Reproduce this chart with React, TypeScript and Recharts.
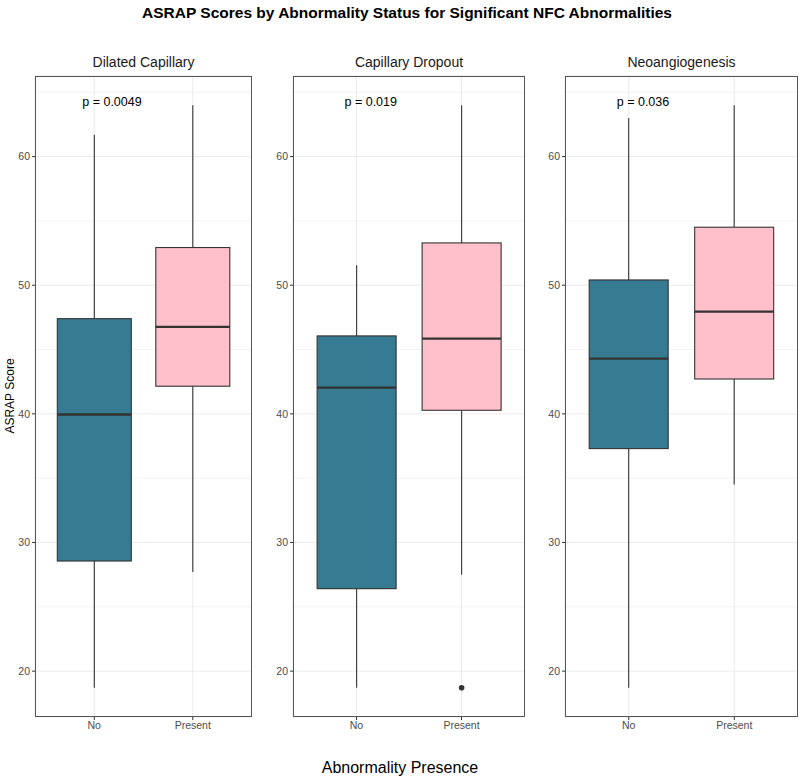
import React from 'react';
import { ComposedChart, Bar, XAxis, YAxis, CartesianGrid, ReferenceDot } from 'recharts';

const panelTitles = ['Dilated Capillary', 'Capillary Dropout', 'Neoangiogenesis'];
const groups = ['No', 'Present'];
const pLabels = ['p = 0.0049', 'p = 0.019', 'p = 0.036'];
const whiskerLow = [[18.7, 27.7], [18.7, 27.5], [18.7, 34.5]];
const q1 = [[28.56, 42.15], [26.41, 40.28], [37.3, 42.71]];
const median = [[39.95, 46.76], [42.04, 45.85], [44.3, 47.95]];
const q3 = [[47.4, 52.93], [46.06, 53.29], [50.41, 54.51]];
const whiskerHigh = [[61.7, 64.0], [51.55, 64.0], [63.0, 64.0]];
const outliers = [[[], []], [[], [18.7]], [[], []]];
const pLabelY = 64.3;
const majorTicks = [20, 30, 40, 50, 60];
const minorTicks = [25, 35, 45, 55, 65];
const groupColors = ['#367B91', '#FFC0CB'];

const allVals: number[] = [];
for (let p = 0; p < 3; p++) {
  for (let g = 0; g < 2; g++) {
    allVals.push(whiskerLow[p][g], whiskerHigh[p][g], ...outliers[p][g]);
  }
}
const dMin = Math.min(...allVals);
const dMax = Math.max(...allVals);
const pad = (dMax - dMin) * 0.05;
const yDomain = [dMin - pad, dMax + pad];

const FONT = '"Liberation Sans", Arial, Helvetica, sans-serif';

function buildData(p: number) {
  return groups.map((g, i) => {
    const lo = Math.min(whiskerLow[p][i], ...outliers[p][i]);
    return {
      group: g,
      idx: i,
      lo,
      hi: whiskerHigh[p][i],
      wLow: whiskerLow[p][i],
      q1: q1[p][i],
      med: median[p][i],
      q3: q3[p][i],
      out: outliers[p][i],
      range: [lo, whiskerHigh[p][i]],
    };
  });
}

const BoxShape = (props: any) => {
  const { x, y, width, height, payload } = props;
  if (payload == null || height == null) return null;
  const { lo, hi } = payload;
  const py = (v: number) => y + (height * (hi - v)) / (hi - lo);
  const cx = x + width / 2;
  const stroke = '#333333';
  return (
    <g>
      <line x1={cx} x2={cx} y1={py(payload.hi)} y2={py(payload.q3)} stroke={stroke} strokeWidth={1.1} />
      <line x1={cx} x2={cx} y1={py(payload.q1)} y2={py(payload.wLow)} stroke={stroke} strokeWidth={1.1} />
      <rect
        x={x}
        y={py(payload.q3)}
        width={width}
        height={py(payload.q1) - py(payload.q3)}
        fill={groupColors[payload.idx]}
        stroke={stroke}
        strokeWidth={1.1}
      />
      <line x1={x} x2={x + width} y1={py(payload.med)} y2={py(payload.med)} stroke={stroke} strokeWidth={2.3} />
      {payload.out.map((o: number, k: number) => (
        <circle key={k} cx={cx} cy={py(o)} r={2.8} fill={stroke} />
      ))}
    </g>
  );
};

const panelLayout = [
  { left: 0, width: 252, plotLeft: 35 },
  { left: 258, width: 267, plotLeft: 293 },
  { left: 530, width: 268, plotLeft: 565 },
];
const PLOT_TOP = 76;
const PLOT_BOTTOM = 717;
const H = 778;

function Panel({ p }: { p: number }) {
  const lay = panelLayout[p];
  const data = buildData(p);
  const yAxisW = lay.plotLeft - lay.left;
  const plotW = lay.width - yAxisW;
  const padX = Math.round(plotW * 0.04545);
  return (
    <div style={{ position: 'absolute', left: lay.left, top: 0, width: lay.width, height: H }}>
      <ComposedChart
        width={lay.width}
        height={H}
        data={data}
        margin={{ top: PLOT_TOP, right: 0, bottom: H - PLOT_BOTTOM - 30, left: 0 }}
        barCategoryGap="12.5%"
      >
        <CartesianGrid
          stroke="#F3F3F3"
          strokeWidth={1}
          horizontal={true}
          vertical={false}
          horizontalValues={minorTicks}
        />
        <CartesianGrid stroke="#EBEBEB" strokeWidth={1} horizontal={true} vertical={true} />
        <XAxis
          dataKey="group"
          type="category"
          height={30}
          padding={{ left: padX, right: padX }}
          tickSize={3}
          tickLine={{ stroke: '#333333' }}
          axisLine={false}
          tick={{ fill: '#4D4D4D', fontSize: 10.5, fontFamily: FONT }}
          tickMargin={2}
        />
        <YAxis
          type="number"
          domain={yDomain}
          ticks={majorTicks}
          width={yAxisW}
          tickSize={3}
          tickLine={{ stroke: '#333333' }}
          axisLine={false}
          tick={{ fill: '#4D4D4D', fontSize: 10.5, fontFamily: FONT }}
          tickMargin={2}
          allowDataOverflow={true}
        />
        <Bar dataKey="range" shape={<BoxShape />} isAnimationActive={false} />
        <ReferenceDot
          x="No"
          y={pLabelY}
          r={0}
          ifOverflow="visible"
          shape={(sp: any) => (
            <text
              x={sp.cx - 12}
              y={sp.cy}
              dy="0.35em"
              textAnchor="start"
              fontSize={12.5}
              fill="#000"
              fontFamily={FONT}
            >
              {pLabels[p]}
            </text>
          )}
        />
      </ComposedChart>
      <div
        style={{
          position: 'absolute',
          left: yAxisW,
          top: PLOT_TOP,
          width: plotW,
          height: PLOT_BOTTOM - PLOT_TOP,
          border: '1px solid #555555',
          boxSizing: 'border-box',
          pointerEvents: 'none',
        }}
      />
    </div>
  );
}

export default function App() {
  return (
    <div
      style={{
        position: 'absolute',
        left: 0,
        top: 0,
        width: 800,
        height: H,
        background: '#FFFFFF',
        fontFamily: FONT,
      }}
    >
      {[0, 1, 2].map((p) => (
        <Panel key={p} p={p} />
      ))}
      <svg width={800} height={H} style={{ position: 'absolute', left: 0, top: 0, pointerEvents: 'none' }}>
        <text x={407} y={13} dy="0.35em" textAnchor="middle" fontSize={15.5} fontWeight="bold" fill="#000" fontFamily={FONT}>
          ASRAP Scores by Abnormality Status for Significant NFC Abnormalities
        </text>
        {panelTitles.map((t, p) => {
          const lay = panelLayout[p];
          const cx = (lay.plotLeft + lay.left + lay.width) / 2;
          return (
            <text key={t} x={cx} y={62} dy="0.35em" textAnchor="middle" fontSize={14} fill="#1A1A1A" fontFamily={FONT}>
              {t}
            </text>
          );
        })}
        <text
          x={10}
          y={396}
          dy="0.35em"
          textAnchor="middle"
          fontSize={12}
          fill="#000"
          fontFamily={FONT}
          transform="rotate(-90 10 396)"
        >
          ASRAP Score
        </text>
        <text x={400} y={767} dy="0.35em" textAnchor="middle" fontSize={16} fill="#000" fontFamily={FONT}>
          Abnormality Presence
        </text>
      </svg>
    </div>
  );
}
